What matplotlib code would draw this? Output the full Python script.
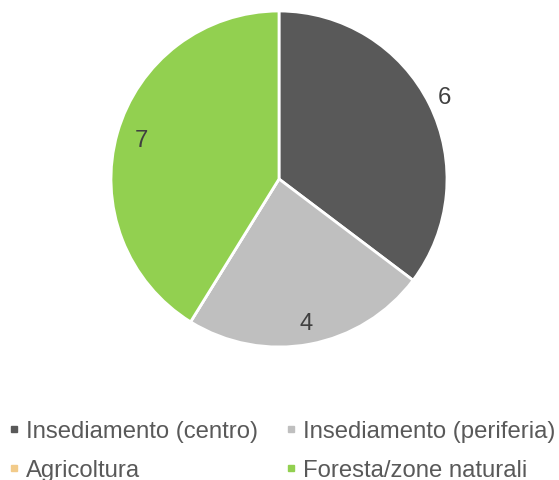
import numpy as np
import matplotlib
matplotlib.use("Agg")
import matplotlib.pyplot as plt
from matplotlib.lines import Line2D

plt.rcParams['font.family'] = ['Liberation Sans', 'DejaVu Sans']

categories = ["Insediamento (centro)", "Insediamento (periferia)",
              "Agricoltura", "Foresta/zone naturali"]
values = [6, 4, 0, 7]
colors = ["#595959", "#BFBFBF", "#F2CB8A", "#92D050"]
label_r = [1.10, 0.87, 0.87, 0.85]
txt = "#404040"
fs = 17.2

fig = plt.figure(figsize=(5.59, 4.81), dpi=100)
W, H = 559, 481
cx, cy, r = 279, 180, 168
ax = fig.add_axes([(cx - r) / W, (H - cy - r) / H, 2 * r / W, 2 * r / H])

ax.pie(values, colors=colors, startangle=90, counterclock=False, radius=1,
       wedgeprops=dict(edgecolor="white", linewidth=2))
ax.set_xlim(-1, 1)
ax.set_ylim(-1, 1)
ax.set_aspect("equal")
ax.axis("off")

# data labels
total = sum(values)
start = 90.0
for v, lr in zip(values, label_r):
    span = 360.0 * v / total
    if v > 0:
        mid = np.deg2rad(start - span / 2)
        ax.text(lr * np.cos(mid), lr * np.sin(mid), str(v), ha="center",
                va="center", fontsize=fs, color=txt)
    start -= span

order = [0, 2, 1, 3]
handles = [Line2D([], [], marker="s", linestyle="none", markersize=5,
                  color=colors[i]) for i in order]
labels = [categories[i] for i in order]
fig.legend(handles, labels, ncol=2, loc="center left", bbox_to_anchor=(8 / W, 0.061),
           frameon=False, fontsize=fs, labelcolor="#595959",
           handlelength=0.5, handletextpad=0.25, columnspacing=1.15,
           labelspacing=0.7, borderpad=0, borderaxespad=0)

fig.savefig("out.png", dpi=100)
